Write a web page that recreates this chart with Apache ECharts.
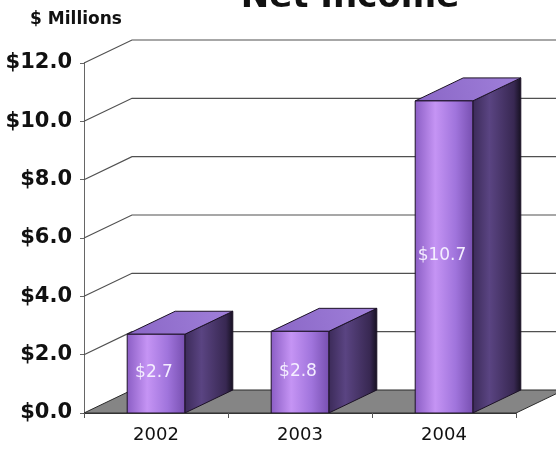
<!DOCTYPE html>
<html>
<head>
<meta charset="utf-8">
<script src="https://cdn.jsdelivr.net/npm/echarts@6/dist/echarts.min.js"></script>
<style>
  html, body { margin: 0; padding: 0; background: #fff; }
  #chart { width: 556px; height: 450px; }
</style>
</head>
<body>
<div id="chart"></div>
<script>
// Net income by year, $ millions
const years = ['2002', '2003', '2004'];
const netIncome = [2.7, 2.8, 10.7];
const valueTicks = [0, 2, 4, 6, 8, 10, 12];

// Oblique depth of the pseudo-3D box (pixels)
const DEPTH_X = 48;
const DEPTH_Y = -23;
const FONT = '"DejaVu Sans", "Liberation Sans", sans-serif';

function money(v) { return '$' + v.toFixed(1); }

const chart = echarts.init(document.getElementById('chart'), null, { renderer: 'canvas' });

// Floor and back-wall grid lines, pushed back by the depth offset
function renderWall(params, api) {
  const cs = params.coordSys;
  const v = api.value(1);
  const y = api.coord([0, v])[1];
  const x0 = cs.x;
  const x1 = cs.x + cs.width;
  const children = [];
  if (v === 0) {
    children.push({
      type: 'polygon',
      shape: { points: [[x0, y], [x1, y], [x1 + DEPTH_X, y + DEPTH_Y], [x0 + DEPTH_X, y + DEPTH_Y]] },
      style: { fill: '#858585', stroke: '#2a2a2a', lineWidth: 1 }
    });
  } else {
    children.push({
      type: 'polyline',
      shape: { points: [[x0, y], [x0 + DEPTH_X, y + DEPTH_Y], [x1 + DEPTH_X + 200, y + DEPTH_Y]] },
      style: { stroke: '#505050', lineWidth: 1.2, fill: null }
    });
  }
  return { type: 'group', children: children };
}

const frontFill = new echarts.graphic.LinearGradient(0, 0, 1, 0, [
  { offset: 0, color: '#8a5dc4' },
  { offset: 0.35, color: '#c594f4' },
  { offset: 0.7, color: '#a074dc' },
  { offset: 1, color: '#774fb0' }
]);
const sideFill = new echarts.graphic.LinearGradient(0, 0, 1, 0, [
  { offset: 0, color: '#3b2a58' },
  { offset: 0.35, color: '#5a4482' },
  { offset: 0.85, color: '#382852' },
  { offset: 1, color: '#15101f' }
]);
const topFill = new echarts.graphic.LinearGradient(0, 1, 1, 0, [
  { offset: 0, color: '#8a66c6' },
  { offset: 1, color: '#a080da' }
]);

function renderBar(params, api) {
  const i = api.value(0);
  const v = api.value(1);
  const base = api.coord([i, 0]);
  const top = api.coord([i, v]);
  const w = api.size([1, 0])[0] * 0.4;
  const xl = base[0] - w / 2;
  const xr = base[0] + w / 2;
  const yb = base[1];
  const yt = top[1];
  const edge = '#1c1226';
  return {
    type: 'group',
    children: [
      {
        type: 'polygon',
        shape: { points: [[xr, yb], [xr + DEPTH_X, yb + DEPTH_Y], [xr + DEPTH_X, yt + DEPTH_Y], [xr, yt]] },
        style: { fill: sideFill, stroke: edge, lineWidth: 1 }
      },
      {
        type: 'polygon',
        shape: { points: [[xl, yt], [xr, yt], [xr + DEPTH_X, yt + DEPTH_Y], [xl + DEPTH_X, yt + DEPTH_Y]] },
        style: { fill: topFill, stroke: edge, lineWidth: 1 }
      },
      {
        type: 'rect',
        shape: { x: xl, y: yt, width: w, height: yb - yt },
        style: { fill: frontFill, stroke: edge, lineWidth: 1 }
      },
      {
        type: 'text',
        x: (xl + xr) / 2 - 2,
        y: (yt + yb) / 2 - 1,
        style: {
          text: money(v),
          fill: '#f4eeff',
          font: '17px ' + FONT,
          align: 'center',
          verticalAlign: 'middle'
        }
      }
    ]
  };
}

const option = {
  animation: false,
  backgroundColor: '#ffffff',
  grid: { left: 84, right: 40, top: 63, bottom: 37, containLabel: false },
  xAxis: {
    type: 'category',
    data: years,
    boundaryGap: true,
    z: 5,
    axisLine: { show: true, lineStyle: { color: '#333', width: 1 } },
    axisTick: { show: true, length: 5, lineStyle: { color: '#555' } },
    axisLabel: { margin: 13, color: '#111', fontFamily: FONT, fontSize: 18 },
    splitLine: { show: false }
  },
  yAxis: {
    type: 'value',
    min: 0,
    max: 12,
    interval: 2,
    axisLine: { show: true, lineStyle: { color: '#666', width: 1 } },
    axisTick: { show: true, length: 4, lineStyle: { color: '#666' } },
    axisLabel: {
      margin: 12,
      color: '#111',
      fontFamily: FONT,
      fontWeight: 'bold',
      fontSize: 21,
      formatter: money
    },
    splitLine: { show: false }
  },
  graphic: [
    {
      type: 'text',
      x: 350,
      y: 15,
      style: {
        text: 'Net Income',
        font: 'bold 34px ' + FONT,
        fill: '#111',
        align: 'center',
        verticalAlign: 'bottom'
      }
    },
    {
      type: 'text',
      x: 76,
      y: 20,
      style: {
        text: '$ Millions',
        font: 'bold 17px ' + FONT,
        fill: '#111',
        align: 'center',
        verticalAlign: 'middle'
      }
    }
  ],
  series: [
    {
      type: 'custom',
      name: 'wall',
      z: 1,
      clip: false,
      silent: true,
      renderItem: renderWall,
      data: valueTicks.map(function (v) { return [0, v]; })
    },
    {
      type: 'custom',
      name: 'Net Income',
      z: 3,
      clip: false,
      renderItem: renderBar,
      encode: { x: 0, y: 1 },
      data: netIncome.map(function (v, i) { return [i, v]; })
    }
  ]
};

chart.setOption(option);
</script>
</body>
</html>
